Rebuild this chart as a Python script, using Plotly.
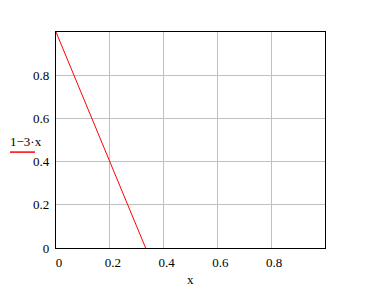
import plotly.graph_objects as go

x_vals = [0.0, 0.3333]
y_vals = [1.0, 0.0]
tick_vals = [0, 0.2, 0.4, 0.6, 0.8]
tick_text = ["0", "0.2", "0.4", "0.6", "0.8"]
series_label = "1\u22123\u00b7x"
x_title = "x"

font_family = "Liberation Serif, Times New Roman, serif"

fig = go.Figure()
fig.add_trace(go.Scatter(x=x_vals, y=y_vals, mode="lines",
                         line=dict(color="#ff0000", width=1),
                         showlegend=False, hoverinfo="skip"))

axis_common = dict(
    range=[0, 1.0],
    tickvals=tick_vals, ticktext=tick_text,
    showgrid=True, gridcolor="#c0c0c0", gridwidth=1,
    showline=True, linecolor="black", linewidth=1.2, mirror=True,
    zeroline=False, ticks="",
    tickfont=dict(family=font_family, size=13, color="black"),
)

fig.update_layout(
    width=371, height=295,
    margin=dict(l=56, r=46, t=32, b=47),
    paper_bgcolor="white", plot_bgcolor="white",
    xaxis=dict(**axis_common, ticklabelstandoff=2, ticklabelshift=3),
    yaxis=dict(**axis_common, ticklabelstandoff=3),
    font=dict(family=font_family, color="black"),
)

fig.add_annotation(text=x_title, xref="paper", yref="paper", x=0.5, y=-0.145,
                   xanchor="center", yanchor="middle", showarrow=False,
                   font=dict(family=font_family, size=13, color="black"))
fig.add_annotation(text=series_label, xref="paper", yref="paper", x=-0.113, y=0.495,
                   xanchor="center", yanchor="middle", showarrow=False,
                   font=dict(family=font_family, size=13, color="black"))
fig.add_shape(type="line", xref="paper", yref="paper",
              x0=-0.171, x1=-0.078, y0=0.444, y1=0.444,
              line=dict(color="#ff0000", width=1.5))

fig.write_html("out.html")
